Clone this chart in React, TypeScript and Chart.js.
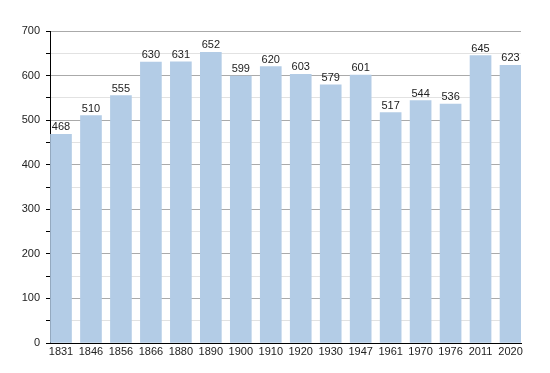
import React, { useEffect, useRef } from "react";
import { Chart, registerables } from "chart.js";

Chart.register(...registerables);

const years = ["1831", "1846", "1856", "1866", "1880", "1890", "1900", "1910", "1920", "1930", "1947", "1961", "1970", "1976", "2011", "2020"];
const population = [468, 510, 555, 630, 631, 652, 599, 620, 603, 579, 601, 517, 544, 536, 645, 623];
const yMax = 700;
const yStep = 50;

const FONT = "'Liberation Sans', Arial, sans-serif";

const valueLabels = {
  id: "valueLabels",
  afterDatasetsDraw(chart: any) {
    const ctx = chart.ctx;
    const meta = chart.getDatasetMeta(0);
    ctx.save();
    ctx.font = `11px ${FONT}`;
    ctx.fillStyle = "#222";
    ctx.textAlign = "center";
    ctx.textBaseline = "alphabetic";
    meta.data.forEach((bar: any, i: number) => {
      ctx.fillText(String(population[i]), bar.x, bar.y - 4);
    });
    ctx.restore();
  },
};

export default function App() {
  const ref = useRef<HTMLCanvasElement>(null);
  useEffect(() => {
    const chart = new Chart(ref.current!, {
      type: "bar",
      data: {
        datasets: [
          {
            data: population.map((v, i) => ({ x: i, y: v })),
            backgroundColor: "rgb(179,204,230)",
            borderWidth: 0,
            barThickness: 21,
          },
        ],
      },
      options: {
        responsive: false,
        animation: false,
        layout: { padding: { left: 0, right: 29, top: 31, bottom: 0 } },
        plugins: { legend: { display: false }, tooltip: { enabled: false } },
        scales: {
          x: {
            type: "linear",
            offset: false,
            min: -0.367,
            max: 15.35,
            afterBuildTicks: (s: any) => {
              s.ticks = years.map((_, i) => ({ value: i }));
            },
            afterFit: (s: any) => {
              s.height = 30;
            },
            ticks: {
              autoSkip: false,
              maxRotation: 0,
              padding: 2,
              color: "#222",
              font: { family: FONT, size: 11 },
              callback: (v: any) => years[v] ?? "",
            },
            grid: { display: false, drawTicks: false },
            border: { display: true, color: "#000", width: 1 },
          },
          y: {
            min: 0,
            max: yMax,
            afterFit: (s: any) => {
              s.width = 50;
            },
            ticks: {
              stepSize: yStep,
              padding: 6,
              color: "#222",
              font: { family: FONT, size: 11 },
              callback: (v: any) => (v % 100 === 0 ? String(v) : ""),
            },
            grid: {
              color: (c: any) => (c.tick && c.tick.value % 100 === 0 ? "#aaaaaa" : "#e2e2e2"),
              tickColor: "#000",
              tickLength: 4,
              lineWidth: 1,
            },
            border: { display: true, color: "#000", width: 1 },
          },
        },
      },
      plugins: [valueLabels],
    });
    return () => chart.destroy();
  }, []);
  return (
    <div style={{ position: "fixed", left: 0, top: 0, width: 550, height: 373, background: "#fff" }}>
      <canvas ref={ref} width={550} height={373} />
    </div>
  );
}
